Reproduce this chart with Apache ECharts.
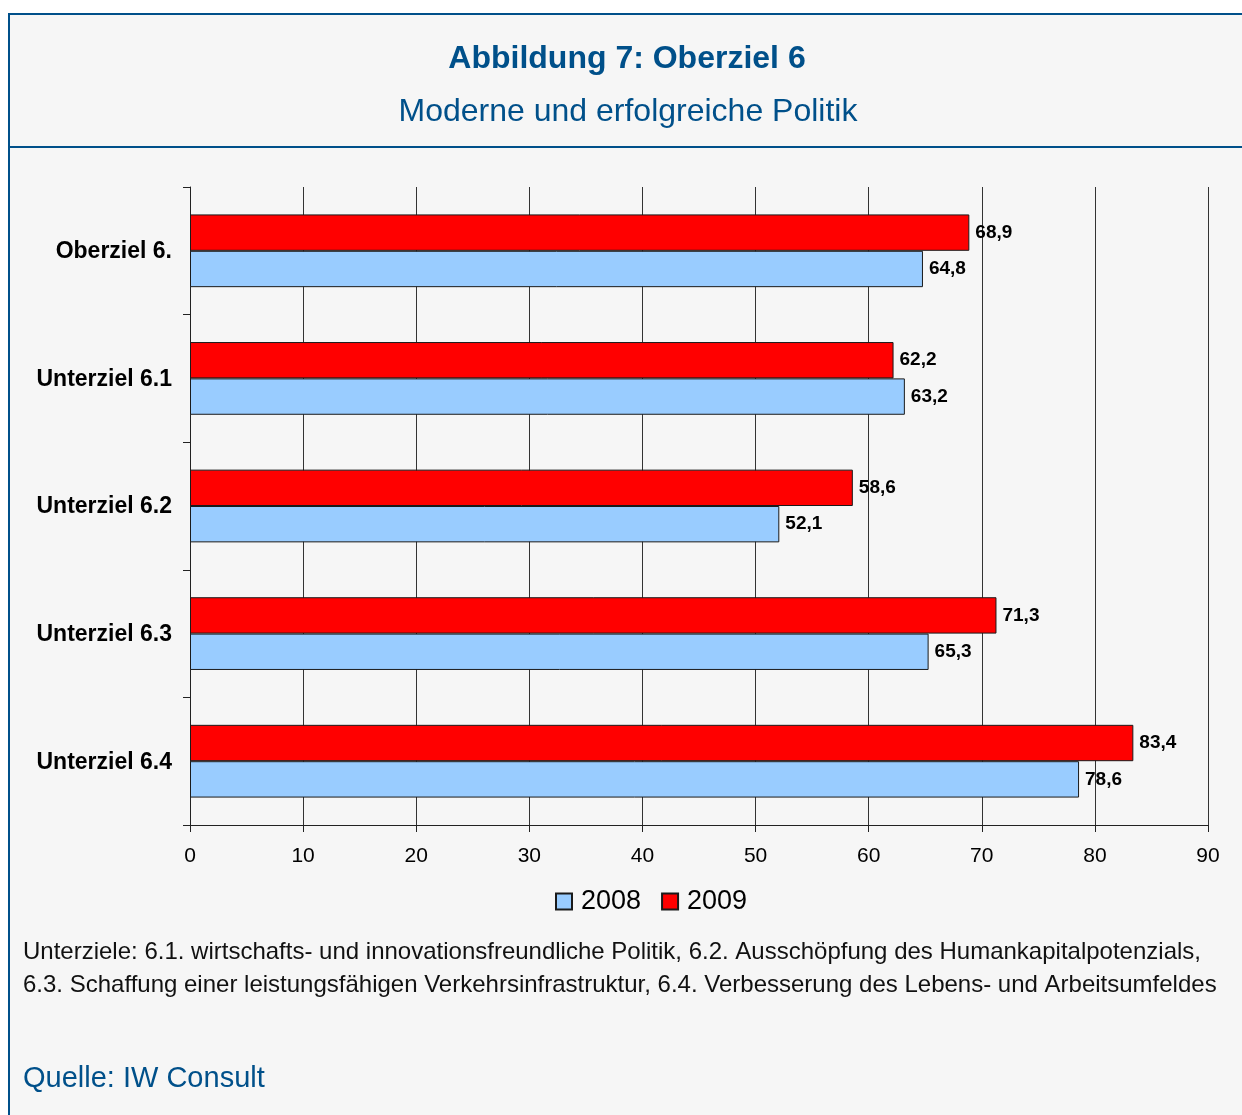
<!DOCTYPE html>
<html>
<head>
<meta charset="utf-8">
<script src="https://cdn.jsdelivr.net/npm/echarts@6/dist/echarts.min.js"></script>
<style>
  body { margin: 0; background: #fff; }
  #chart { width: 1242px; height: 1115px; }
</style>
</head>
<body>
<div id="chart"></div>
<script>
/****** DATA ******/
const categories = ['Oberziel 6.', 'Unterziel 6.1', 'Unterziel 6.2', 'Unterziel 6.3', 'Unterziel 6.4'];
const values2009 = [68.9, 62.2, 58.6, 71.3, 83.4];
const values2008 = [64.8, 63.2, 52.1, 65.3, 78.6];
const xTicks = [0, 90, 10]; // min, max, interval

const FONT = '"Liberation Sans", Arial, sans-serif';
const BLUE = '#00508a';

var myChart = echarts.init(document.getElementById('chart'));

// label like "68,9"
function deNumber(v) {
    return v.toFixed(1).replace('.', ',');
}

var option = {
    backgroundColor: '#fff',
    animation: false,
    graphic: [
        // frame box
        { type: 'rect', z: -10, shape: { x: 9, y: 14, width: 1260, height: 1120 },
          style: { fill: '#f6f6f6', stroke: BLUE, lineWidth: 2 } },
        { type: 'line', z: -9, shape: { x1: 9, y1: 147, x2: 1250, y2: 147 },
          style: { stroke: BLUE, lineWidth: 2 } },
        { type: 'text', style: { text: 'Abbildung 7: Oberziel 6', x: 627, y: 59,
          font: 'bold 32px ' + FONT, fill: BLUE,
          align: 'center', verticalAlign: 'middle', textAlign: 'center', textVerticalAlign: 'middle' } },
        { type: 'text', style: { text: 'Moderne und erfolgreiche Politik', x: 628, y: 112,
          font: '32px ' + FONT, fill: BLUE,
          align: 'center', verticalAlign: 'middle', textAlign: 'center', textVerticalAlign: 'middle' } },
        { type: 'text', style: { text: 'Unterziele: 6.1. wirtschafts- und innovationsfreundliche Politik, 6.2. Ausschöpfung des Humankapitalpotenzials,',
          x: 23, y: 952, font: '24px ' + FONT, fill: '#111',
          align: 'left', verticalAlign: 'middle', textAlign: 'left', textVerticalAlign: 'middle' } },
        { type: 'text', style: { text: '6.3. Schaffung einer leistungsfähigen Verkehrsinfrastruktur, 6.4. Verbesserung des Lebens- und Arbeitsumfeldes',
          x: 23, y: 985, font: '24px ' + FONT, fill: '#111',
          align: 'left', verticalAlign: 'middle', textAlign: 'left', textVerticalAlign: 'middle' } },
        { type: 'text', style: { text: 'Quelle: IW Consult', x: 23, y: 1079,
          font: '29px ' + FONT, fill: BLUE,
          align: 'left', verticalAlign: 'middle', textAlign: 'left', textVerticalAlign: 'middle' } }
    ],
    legend: {
        data: ['2008', '2009'],
        left: 555,
        top: 888,
        padding: 0,
        itemWidth: 16,
        itemHeight: 16,
        itemGap: 20,
        icon: 'rect',
        textStyle: { fontFamily: FONT, fontSize: 27, color: '#000', padding: [0, 0, 0, 4] }
    },
    grid: {
        left: 190,
        right: 34,
        top: 187,
        height: 638,
        containLabel: false
    },
    xAxis: {
        type: 'value',
        min: xTicks[0],
        max: xTicks[1],
        interval: xTicks[2],
        axisLine: { show: true, lineStyle: { color: '#222', width: 1 } },
        axisTick: { show: true, length: 7, lineStyle: { color: '#222' } },
        axisLabel: { margin: 21, fontFamily: FONT, fontSize: 21, color: '#000' },
        splitLine: { show: true, lineStyle: { color: '#333', width: 1 } }
    },
    yAxis: {
        type: 'category',
        inverse: true,
        data: categories,
        axisLine: { show: true, lineStyle: { color: '#222', width: 1 } },
        axisTick: { show: true, length: 7, lineStyle: { color: '#222' } },
        axisLabel: {
            margin: 18,
            formatter: v => '{c|' + v + '}',
            rich: {
                c: { fontFamily: FONT, fontSize: 23, fontWeight: 'bold', color: '#000', padding: [2, 0, 0, 0] }
            }
        }
    },
    series: [{
        name: '2009',
        type: 'bar',
        data: values2009,
        barGap: '0%',
        barCategoryGap: '43%',
        itemStyle: { color: '#ff0000', borderColor: '#1a1a1a', borderWidth: 1 },
        label: { show: true, position: 'right', distance: 6, fontFamily: FONT, fontSize: 19,
                 fontWeight: 'bold', color: '#000', formatter: p => deNumber(p.value) }
    }, {
        name: '2008',
        type: 'bar',
        data: values2008,
        barGap: '0%',
        barCategoryGap: '43%',
        itemStyle: { color: '#99ccff', borderColor: '#1a1a1a', borderWidth: 1 },
        label: { show: true, position: 'right', distance: 6, fontFamily: FONT, fontSize: 19,
                 fontWeight: 'bold', color: '#000', formatter: p => deNumber(p.value) }
    }]
};

myChart.setOption(option);
</script>
</body>
</html>
